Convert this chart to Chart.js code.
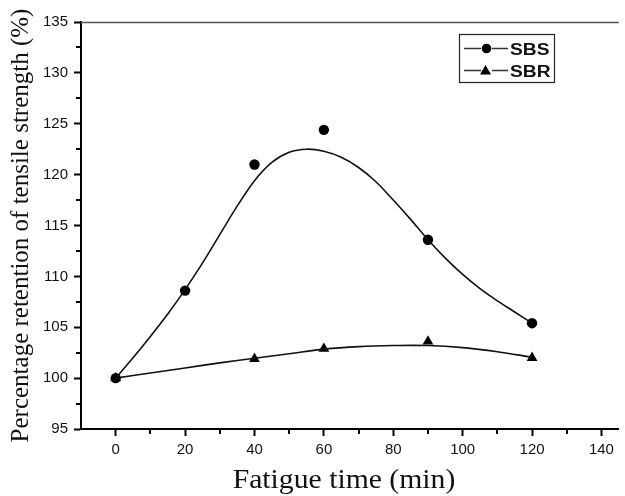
<!DOCTYPE html>
<html>
<head>
<meta charset="utf-8">
<script src="https://cdn.jsdelivr.net/npm/chart.js@4/dist/chart.umd.min.js"></script>
<style>
html,body{margin:0;padding:0;background:#fff;}
#wrap{width:625px;height:496px;}
</style>
</head>
<body>
<div id="wrap"><canvas id="c" width="625" height="496"></canvas></div>
<script>
// Measured data points
const fatigueTimes = [0, 20, 40, 60, 90, 120];
const sbsValues = [100, 108.6, 121.0, 124.4, 113.6, 105.4];
const sbrTimes = [0, 40, 60, 90, 120];
const sbrValues = [100, 101.9, 102.9, 103.6, 102.0];

// Fitted curves
const sbsCurveX = [0, 5, 10, 15, 20, 25, 30, 35, 40, 45, 50, 55, 60, 65, 70, 75, 80, 85, 90, 95, 100, 105, 110, 115, 120];
const sbsCurveY = [100, 102.0, 104.1, 106.3, 108.7, 111.3, 114.1, 116.9, 119.4, 121.2, 122.2, 122.5, 122.3, 121.7, 120.7, 119.3, 117.5, 115.6, 113.6, 111.8, 110.2, 108.8, 107.6, 106.5, 105.4];
const sbrCurveX = [0, 10, 20, 30, 40, 50, 60, 70, 80, 90, 100, 110, 120];
const sbrCurveY = [100, 100.5, 101.0, 101.5, 101.95, 102.4, 102.85, 103.1, 103.2, 103.2, 103.0, 102.6, 102.05];

const xMajorTicks = [0, 20, 40, 60, 80, 100, 120, 140];
const xMinorTicks = [10, 30, 50, 70, 90, 110, 130];
const yMajorTicks = [95, 100, 105, 110, 115, 120, 125, 130, 135];
const yMinorTicks = [97.5, 102.5, 107.5, 112.5, 117.5, 122.5, 127.5, 132.5];

const legendNames = ['SBS', 'SBR'];
const xTitleText = 'Fatigue time (min)';
const yTitleText = 'Percentage retention of tensile strength (%)';

const pts = (xs, ys) => xs.map((x, i) => ({x: x, y: ys[i]}));

const extras = {
  id: 'extras',
  afterDraw(chart) {
    const ctx = chart.ctx;
    const a = chart.chartArea;
    const xs = chart.scales.x, ys = chart.scales.y;
    ctx.save();
    // top border
    ctx.strokeStyle = '#555';
    ctx.lineWidth = 1.5;
    ctx.beginPath();
    ctx.moveTo(a.left, a.top + 0.5);
    ctx.lineTo(a.right, a.top + 0.5);
    ctx.stroke();
    // minor ticks
    ctx.strokeStyle = '#000';
    ctx.lineWidth = 2;
    ctx.beginPath();
    xMinorTicks.forEach(v => {
      const px = Math.round(xs.getPixelForValue(v));
      ctx.moveTo(px, a.bottom);
      ctx.lineTo(px, a.bottom + 5);
    });
    yMinorTicks.forEach(v => {
      const py = Math.round(ys.getPixelForValue(v));
      ctx.moveTo(a.left, py);
      ctx.lineTo(a.left - 5, py);
    });
    ctx.stroke();
    // x title
    ctx.save();
    ctx.fillStyle = '#111';
    ctx.font = '27px "Liberation Serif", "Times New Roman", serif';
    ctx.textAlign = 'center';
    ctx.textBaseline = 'alphabetic';
    ctx.translate(344, 488);
    ctx.scale(1.1, 1);
    ctx.fillText(xTitleText, 0, 0);
    ctx.restore();
    // legend
    const bx = 459, by = 34, bw = 95, bh = 48;
    ctx.fillStyle = '#fff';
    ctx.fillRect(bx, by, bw, bh);
    ctx.strokeStyle = '#222';
    ctx.lineWidth = 1.2;
    ctx.strokeRect(bx + 0.5, by + 0.5, bw, bh);
    legendNames.forEach((name, i) => {
      const cy = 48.5 + i * 22;
      ctx.strokeStyle = '#333';
      ctx.lineWidth = 1.4;
      ctx.beginPath();
      ctx.moveTo(464, cy); ctx.lineTo(481, cy);
      ctx.moveTo(492, cy); ctx.lineTo(508, cy);
      ctx.stroke();
      ctx.fillStyle = '#000';
      ctx.beginPath();
      if (i === 0) {
        ctx.arc(486.5, cy, 4.8, 0, Math.PI * 2);
      } else {
        ctx.moveTo(485.5, cy - 5.5);
        ctx.lineTo(491, cy + 4);
        ctx.lineTo(480, cy + 4);
        ctx.closePath();
      }
      ctx.fill();
      ctx.save();
      ctx.fillStyle = '#111';
      ctx.font = 'bold 16px "Liberation Sans", Arial, sans-serif';
      ctx.textAlign = 'left';
      ctx.textBaseline = 'alphabetic';
      ctx.translate(510, cy + 6.5);
      ctx.scale(1.2, 1);
      ctx.fillText(name, 0, 0);
      ctx.restore();
    });
    ctx.restore();
  }
};

new Chart(document.getElementById('c'), {
  type: 'scatter',
  data: {
    datasets: [
      {label: 'SBS fit', data: pts(sbsCurveX, sbsCurveY), showLine: true, borderColor: '#111', borderWidth: 1.6, pointRadius: 0, tension: 0.3, fill: false},
      {label: 'SBR fit', data: pts(sbrCurveX, sbrCurveY), showLine: true, borderColor: '#111', borderWidth: 1.6, pointRadius: 0, tension: 0.4, fill: false},
      {label: 'SBS', data: pts(fatigueTimes, sbsValues), showLine: false, pointStyle: 'circle', pointRadius: 5.2, backgroundColor: '#000', borderColor: '#000', borderWidth: 0},
      {label: 'SBR', data: pts(sbrTimes, sbrValues), showLine: false, pointStyle: 'triangle', pointRadius: 6.2, backgroundColor: '#000', borderColor: '#000', borderWidth: 0}
    ]
  },
  options: {
    responsive: false,
    animation: false,
    devicePixelRatio: 1,
    layout: {padding: {top: 22, right: 0, left: 0, bottom: 0}},
    plugins: {legend: {display: false}, tooltip: {enabled: false}},
    scales: {
      x: {
        type: 'linear', min: -10, max: 145,
        afterBuildTicks: s => { s.ticks = xMajorTicks.map(v => ({value: v})); },
        afterFit: s => { s.height = 67; },
        grid: {drawOnChartArea: false, drawTicks: true, tickLength: 7, tickWidth: 2, tickColor: '#000'},
        border: {display: true, color: '#000', width: 2},
        ticks: {color: '#111', font: {family: '"Liberation Sans", Arial, sans-serif', size: 15}, padding: 5, maxRotation: 0, autoSkip: false},
        title: {display: false}
      },
      y: {
        type: 'linear', min: 95, max: 135,
        afterBuildTicks: s => { s.ticks = yMajorTicks.map(v => ({value: v})); },
        afterFit: s => { s.width = 81; },
        grid: {drawOnChartArea: false, drawTicks: true, tickLength: 7, tickWidth: 2, tickColor: '#000'},
        border: {display: true, color: '#000', width: 2},
        ticks: {color: '#111', font: {family: '"Liberation Sans", Arial, sans-serif', size: 15}, padding: 6, autoSkip: false},
        title: {display: true, text: yTitleText, color: '#111', font: {family: '"Liberation Serif", "Times New Roman", serif', size: 25}, padding: {top: 6, bottom: 0}}
      }
    }
  },
  plugins: [extras]
});
</script>
</body>
</html>
